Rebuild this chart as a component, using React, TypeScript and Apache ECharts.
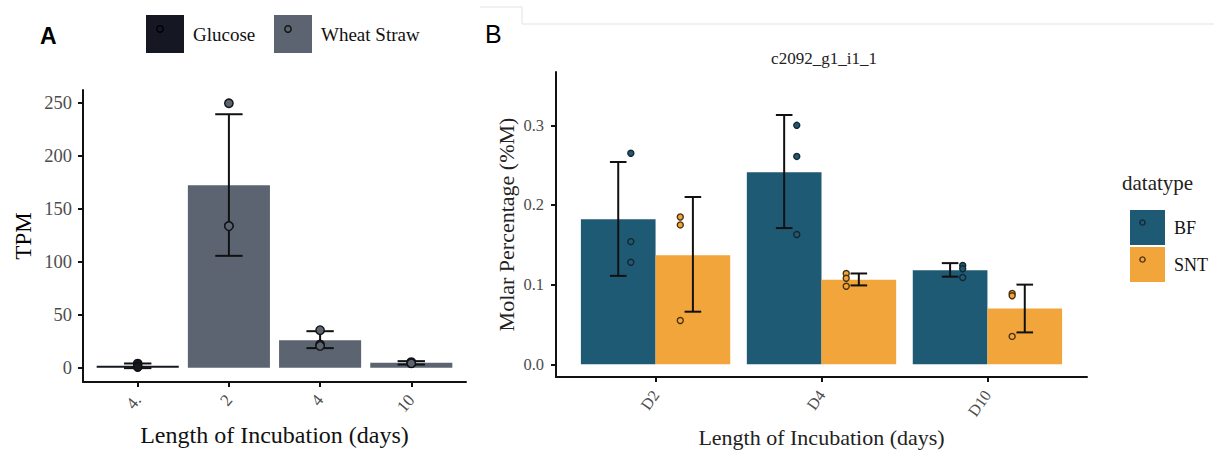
import React, { useEffect, useRef } from 'react';
import * as echarts from 'echarts';

// ---------- Panel A data ----------
const catsA = ['4.', '2', '4', '10'];
const groupA = ['Glucose', 'Wheat Straw', 'Wheat Straw', 'Wheat Straw'];
const groupsA = ['Glucose', 'Wheat Straw'];
const meanA = [1.9, 172.6, 26.1, 4.7];
const lowA = [-0.3, 105.8, 18.6, 3.1];
const highA = [4.1, 239.6, 34.6, 6.3];
const pointsA = [
  [4.0, 1.0, 0.7],
  [250, 133.9, 133.9],
  [35.6, 22.0, 20.7],
  [5.4, 4.4, 4.3],
];
const yTicksA = [0, 50, 100, 150, 200, 250];

// ---------- Panel B data ----------
const catsB = ['D2', 'D4', 'D10'];
const typesB = ['BF', 'SNT'];
const meanBF = [0.182, 0.241, 0.118];
const lowBF = [0.111, 0.171, 0.11];
const highBF = [0.254, 0.313, 0.127];
const pointsBF = [
  [0.265, 0.154, 0.128],
  [0.3, 0.261, 0.163],
  [0.124, 0.12, 0.109],
];
const meanSNT = [0.137, 0.106, 0.07];
const lowSNT = [0.066, 0.099, 0.04];
const highSNT = [0.21, 0.114, 0.1];
const pointsSNT = [
  [0.185, 0.175, 0.055],
  [0.114, 0.108, 0.098],
  [0.089, 0.086, 0.035],
];
const yTicksB = [0, 0.1, 0.2, 0.3];

const SERIF = 'Liberation Serif';
const SANS = 'Liberation Sans';
const colorsA: Record<string, string> = { Glucose: '#151823', 'Wheat Straw': '#5b6470' };
const colorsB: Record<string, string> = { BF: '#1f5a75', SNT: '#f1a53b' };

function barSeries(name: string, data: number[][], color: string, width: number, axis: number, offset = 0) {
  return {
    type: 'custom',
    name,
    xAxisIndex: axis,
    yAxisIndex: axis,
    itemStyle: { color },
    data,
    renderItem: (_p: any, api: any) => {
      const x = api.value(0) + offset;
      const v = api.value(1);
      const top = api.coord([x, v]);
      const base = api.coord([x, 0]);
      const w = api.size([width, 0])[0];
      const h = Math.max(Math.abs(base[1] - top[1]), 1.5);
      return {
        type: 'rect',
        shape: { x: top[0] - w / 2, y: Math.min(top[1], base[1]), width: w, height: h },
        style: { fill: color },
      };
    },
  };
}

function errSeries(data: number[][], capW: number, axis: number, offset = 0) {
  return {
    type: 'custom',
    xAxisIndex: axis,
    yAxisIndex: axis,
    data,
    z: 3,
    renderItem: (_p: any, api: any) => {
      const x = api.value(0) + offset;
      const lo = api.coord([x, api.value(1)]);
      const hi = api.coord([x, api.value(2)]);
      const half = api.size([capW, 0])[0] / 2;
      const st = { stroke: '#111', lineWidth: 2 };
      return {
        type: 'group',
        children: [
          { type: 'line', shape: { x1: lo[0], y1: lo[1], x2: hi[0], y2: hi[1] }, style: st },
          { type: 'line', shape: { x1: hi[0] - half, y1: hi[1], x2: hi[0] + half, y2: hi[1] }, style: st },
          { type: 'line', shape: { x1: lo[0] - half, y1: lo[1], x2: lo[0] + half, y2: lo[1] }, style: st },
        ],
      };
    },
  };
}

function pointSeries(data: number[][], r: number, fill: string, stroke: string, axis: number, offset = 0) {
  return {
    type: 'custom',
    xAxisIndex: axis,
    yAxisIndex: axis,
    data,
    z: 4,
    renderItem: (_p: any, api: any) => {
      const c = api.coord([api.value(0) + offset, api.value(1)]);
      return {
        type: 'circle',
        shape: { cx: c[0], cy: c[1], r },
        style: { fill, stroke, lineWidth: 1.4 },
      };
    },
  };
}

export default function App() {
  const ref = useRef<HTMLDivElement>(null);
  useEffect(() => {
    document.body.style.margin = '0';
    if (!ref.current) return;
    const chart = echarts.init(ref.current, undefined, { renderer: 'svg' });

    const catIdxA = catsA.map((_, i) => i + 1);
    const catIdxB = catsB.map((_, i) => i + 1);

    const seriesA: any[] = [];
    groupsA.forEach((g) => {
      const d = catIdxA.filter((_, i) => groupA[i] === g).map((x) => [x, meanA[x - 1]]);
      seriesA.push(barSeries(g, d, colorsA[g], 0.9, 0));
    });
    seriesA.push(errSeries(catIdxA.map((x, i) => [x, lowA[i], highA[i]]), 0.3, 0));
    groupsA.forEach((g) => {
      const d: number[][] = [];
      catIdxA.forEach((x, i) => {
        if (groupA[i] === g) pointsA[i].forEach((v) => d.push([x, v]));
      });
      seriesA.push(pointSeries(d, 4.2, colorsA[g], '#111', 0));
    });

    const dodge = 0.225;
    const jit = 0.076;
    const seriesB: any[] = [
      barSeries(typesB[0], catIdxB.map((x, i) => [x, meanBF[i]]), colorsB.BF, 0.45, 1, -dodge),
      barSeries(typesB[1], catIdxB.map((x, i) => [x, meanSNT[i]]), colorsB.SNT, 0.45, 1, dodge),
      errSeries(catIdxB.map((x, i) => [x, lowBF[i], highBF[i]]), 0.1, 1, -dodge),
      errSeries(catIdxB.map((x, i) => [x, lowSNT[i], highSNT[i]]), 0.1, 1, dodge),
      pointSeries(catIdxB.flatMap((x, i) => pointsBF[i].map((v) => [x, v])), 3, colorsB.BF, '#16262e', 1, -dodge + jit),
      pointSeries(catIdxB.flatMap((x, i) => pointsSNT[i].map((v) => [x, v])), 3, colorsB.SNT, '#4a3210', 1, dodge - jit),
    ];

    const axisLine = { show: true, onZero: false, lineStyle: { color: '#111', width: 2 } };
    const axisTick = (vals: number[]) => ({ show: true, customValues: vals, length: 5, lineStyle: { color: '#111', width: 2 } });

    const legendItem = (name: string, color: string, left: number, top: number, size: number, fs: number, pad: number) => ({
      data: [{ name, itemStyle: { color } }],
      left,
      top,
      icon: 'rect',
      itemWidth: size,
      itemHeight: size,
      selectedMode: false,
      textStyle: { fontFamily: SERIF, fontSize: fs, color: '#111', padding: [0, 0, 0, pad] },
    });

    chart.setOption({
      animation: false,
      backgroundColor: '#ffffff',
      title: {
        text: 'c2092_g1_i1_1',
        left: 819,
        top: 45,
        textAlign: 'center',
        textStyle: { fontFamily: SERIF, fontSize: 17, fontWeight: 'normal', color: '#222' },
      },
      legend: [
        legendItem('Glucose', colorsA.Glucose, 141, 10, 38, 19, 4),
        legendItem('Wheat Straw', colorsA['Wheat Straw'], 269, 10, 38, 19, 4),
        legendItem(typesB[0], colorsB.BF, 1125, 205, 35, 18, 4),
        legendItem(typesB[1], colorsB.SNT, 1125, 242, 35, 18, 4),
      ],
      grid: [
        { left: 83, top: 90, width: 383, height: 292 },
        { left: 556, top: 72, width: 531, height: 305 },
      ],
      xAxis: [
        {
          type: 'value',
          gridIndex: 0,
          min: 0.4,
          max: catsA.length + 0.6,
          axisLine,
          axisTick: axisTick(catIdxA),
          axisLabel: {
            customValues: catIdxA,
            formatter: (v: number) => catsA[Math.round(v) - 1],
            rotate: 50,
            margin: 15,
            fontFamily: SERIF,
            fontSize: 17,
            color: '#4d4d4d',
          },
          splitLine: { show: false },
          name: 'Length of Incubation (days)',
          nameLocation: 'middle',
          nameGap: 41,
          nameTextStyle: { fontFamily: SERIF, fontSize: 24, color: '#111' },
        },
        {
          type: 'value',
          gridIndex: 1,
          min: 0.4,
          max: catsB.length + 0.6,
          axisLine,
          axisTick: axisTick(catIdxB),
          axisLabel: {
            customValues: catIdxB,
            formatter: (v: number) => catsB[Math.round(v) - 1],
            rotate: 55,
            margin: 15,
            fontFamily: SERIF,
            fontSize: 16,
            color: '#4d4d4d',
          },
          splitLine: { show: false },
          name: 'Length of Incubation (days)',
          nameLocation: 'middle',
          nameGap: 48,
          nameTextStyle: { fontFamily: SERIF, fontSize: 22, color: '#222' },
        },
      ],
      yAxis: [
        {
          type: 'value',
          gridIndex: 0,
          min: -13.4,
          max: 262.5,
          axisLine,
          axisTick: axisTick(yTicksA),
          axisLabel: {
            customValues: yTicksA,
            margin: 11,
            fontFamily: SERIF,
            fontSize: 18.5,
            color: '#4d4d4d',
          },
          splitLine: { show: false },
          name: 'TPM',
          nameLocation: 'middle',
          nameGap: 48,
          nameTextStyle: { fontFamily: SERIF, fontSize: 23, color: '#000' },
        },
        {
          type: 'value',
          gridIndex: 1,
          min: -0.016,
          max: 0.367,
          axisLine,
          axisTick: axisTick(yTicksB),
          axisLabel: {
            customValues: yTicksB,
            formatter: (v: number) => v.toFixed(1),
            margin: 12,
            fontFamily: SERIF,
            fontSize: 16.5,
            color: '#4d4d4d',
          },
          splitLine: { show: false },
          name: 'Molar Percentage (%M)',
          nameLocation: 'middle',
          nameGap: 39,
          nameTextStyle: { fontFamily: SERIF, fontSize: 22, color: '#222' },
        },
      ],
      graphic: [
        {
          type: 'polyline',
          shape: { points: [[480, 7], [522, 7], [522, 24], [1214, 24]] },
          style: { stroke: '#e3e3e3', lineWidth: 1, fill: 'none' },
          silent: true,
        },
        {
          type: 'text',
          x: 40,
          y: 36,
          style: { text: 'A', fontFamily: SANS, fontWeight: 'bold', fontSize: 23, fill: '#000', verticalAlign: 'middle' },
        },
        {
          type: 'text',
          x: 485,
          y: 34,
          style: { text: 'B', fontFamily: SANS, fontSize: 25, fill: '#000', verticalAlign: 'middle' },
        },
        {
          type: 'text',
          x: 1122,
          y: 183,
          style: { text: 'datatype', fontFamily: SERIF, fontSize: 21, fill: '#222', verticalAlign: 'middle' },
        },
        { type: 'circle', shape: { cx: 160, cy: 29, r: 3.2 }, style: { fill: colorsA.Glucose, stroke: '#000', lineWidth: 1.4 }, z: 10 },
        { type: 'circle', shape: { cx: 288, cy: 29, r: 3.2 }, style: { fill: colorsA['Wheat Straw'], stroke: '#111', lineWidth: 1.4 }, z: 10 },
        { type: 'circle', shape: { cx: 1142.5, cy: 222.5, r: 2.6 }, style: { fill: colorsB.BF, stroke: '#16262e', lineWidth: 1.4 }, z: 10 },
        { type: 'circle', shape: { cx: 1142.5, cy: 259.5, r: 2.6 }, style: { fill: colorsB.SNT, stroke: '#4a3210', lineWidth: 1.4 }, z: 10 },
      ],
      series: [...seriesA, ...seriesB],
    });
    return () => chart.dispose();
  }, []);
  return <div ref={ref} style={{ width: 1214, height: 454 }} />;
}
